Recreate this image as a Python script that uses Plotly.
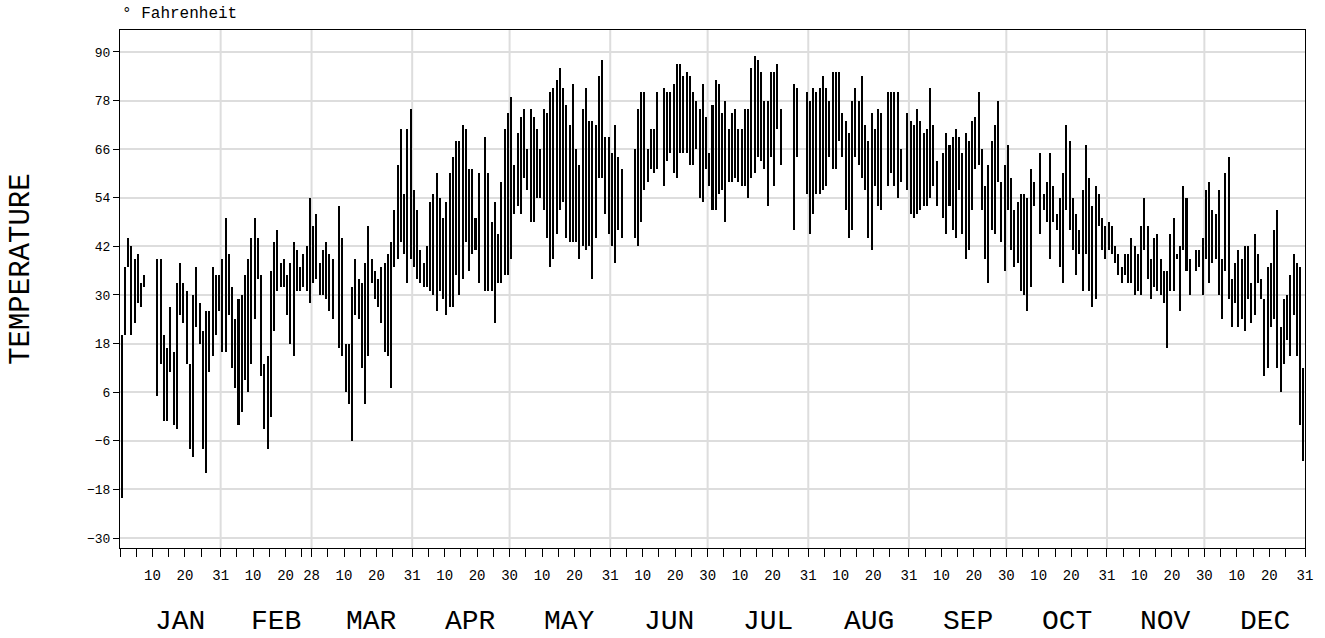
import plotly.graph_objects as go

month_names = ["JAN", "FEB", "MAR", "APR", "MAY", "JUN", "JUL", "AUG", "SEP", "OCT", "NOV", "DEC"]
month_days = [31, 28, 31, 30, 31, 30, 31, 31, 30, 31, 30, 31]
y_ticks = [-30, -18, -6, 6, 18, 30, 42, 54, 66, 78, 90]

# daily high / low temperatures (deg F), None = missing day
jan_hi = [20, 37, 44, 42, 39, 40, 33, 35, None, None, None, 39, 39, 20, 17, 27, 16, 33, 38, 33, 31, 13, 30, 37, 28, 21, 26, 26, 37, 35, 35]
jan_lo = [-20, 20, 37, 20, 23, 28, 27, 32, None, None, None, 5, 13, -1, -1, 11, -2, -3, 25, 23, 13, -8, -10, 22, 18, -8, -14, 11, 15, 20, 26]
feb_hi = [39, 49, 40, 32, 24, 29, 30, 35, 39, 44, 49, 44, 35, 13, 15, 36, 43, 46, 38, 39, 35, 38, 43, 41, 37, 40, 42, 54]
feb_lo = [16, 16, 25, 12, 7, -2, 1, 9, 6, 13, 24, 34, 10, -3, -8, 0, 21, 31, 32, 32, 25, 18, 15, 31, 31, 32, 31, 28]
mar_hi = [47, 50, 38, 41, 43, 40, 39, None, 52, 44, 18, 18, 32, 39, 34, 33, 38, 47, 39, 36, 34, 37, 38, 40, 43, 51, 62, 71, 55, 71, 76]
mar_lo = [33, 34, 30, 30, 29, 26, 24, None, 17, 15, 6, 3, -6, 25, 24, 12, 3, 15, 33, 29, 27, 23, 16, 15, 7, 37, 39, 43, 40, 33, 39]
apr_hi = [56, 51, 41, 38, 42, 53, 55, 60, 54, 49, 53, 60, 64, 68, 68, 72, 71, 61, 61, 49, 60, None, 69, 60, 48, 53, 45, 58, 71, 75]
apr_lo = [37, 34, 33, 32, 32, 31, 30, 26, 31, 29, 25, 27, 27, 35, 30, 34, 43, 36, 40, 41, 33, None, 31, 31, 31, 23, 33, 33, 35, 35]
may_hi = [79, 62, 70, 74, 76, 66, 76, 74, 71, 66, 76, 75, 80, 81, 83, 86, 81, 77, 72, 82, 66, 62, 76, 81, 73, 73, 72, 84, 88, 69, 69]
may_lo = [39, 50, 52, 50, 59, 56, 48, 48, 54, 54, 51, 44, 37, 39, 45, 51, 53, 44, 43, 43, 43, 39, 42, 41, 42, 34, 44, 59, 59, 50, 45]
jun_hi = [65, 72, 64, 61, None, None, None, 66, 76, 80, 80, 66, 71, 71, 80, None, 81, 80, 80, 82, 87, 87, 84, 85, 84, 80, 78, 76, 82, 74]
jun_lo = [42, 38, 46, 44, None, None, None, 44, 42, 48, 56, 58, 61, 60, 61, None, 57, 63, 65, 60, 59, 65, 65, 65, 62, 62, 66, 54, 53, 61]
jul_hi = [65, 77, 83, 82, 75, 78, 71, 75, 76, 71, 71, 76, 76, 86, 89, 88, 85, 78, 78, 85, 85, 87, 76, None, None, None, 82, 81, None, None, 80]
jul_lo = [57, 51, 51, 55, 56, 48, 58, 58, 59, 58, 57, 57, 54, 59, 60, 64, 63, 61, 52, 64, 57, 71, 62, None, None, None, 46, 64, None, None, 55]
aug_hi = [78, 81, 80, 81, 84, 81, 78, 85, 85, 85, 75, 73, 70, 78, 81, 78, 84, 72, 68, 75, 71, 76, 75, None, 80, 80, 80, 80, 66, None, 75]
aug_lo = [45, 50, 55, 55, 56, 57, 64, 61, 61, 68, 64, 51, 44, 46, 64, 62, 59, 56, 44, 41, 57, 52, 51, None, 57, 60, 57, 54, 58, None, 56]
sep_hi = [73, 72, 76, 73, 70, 71, 81, 72, 63, None, 65, 70, 67, 69, 71, 69, 65, 70, 68, 73, 74, 80, 66, 57, 62, 68, 72, 78, 58, 62]
sep_lo = [50, 49, 50, 51, 52, 52, 54, 57, 52, None, 49, 45, 52, 46, 44, 56, 45, 39, 41, 51, 61, 62, 51, 39, 33, 46, 45, 58, 43, 36]
oct_hi = [67, 59, 51, 53, 55, 55, 54, 61, 58, None, 65, 55, 58, 65, 57, 50, 54, 60, 72, 68, 54, 50, 46, 56, 67, 59, 52, 57, 55, 49, 47]
oct_lo = [51, 41, 37, 38, 31, 30, 26, 32, 52, None, 45, 51, 48, 39, 48, 46, 37, 33, 51, 46, 41, 35, 40, 31, 40, 31, 27, 29, 47, 41, 39]
nov_hi = [48, 47, 42, 40, 37, 40, 40, 44, 42, 40, 47, 54, 47, 39, 44, 45, 39, 36, 36, 45, 49, 40, 42, 57, 54, 39, None, 41, 41, 44]
nov_lo = [41, 40, 38, 35, 33, 35, 33, 33, 30, 31, 30, 41, 34, 29, 32, 31, 30, 28, 17, 31, 31, 39, 26, 41, 36, 30, None, 36, 37, 30]
dec_hi = [56, 58, 51, 50, 56, 39, 60, 64, 34, 38, 41, 39, 42, 42, 33, 45, 40, 34, 29, 37, 38, 46, 51, 22, 29, 30, 35, 40, 38, 37, 12]
dec_lo = [39, 33, 38, 39, 30, 24, 36, 29, 22, 28, 22, 24, 21, 29, 23, 25, 33, 29, 10, 12, 22, 24, 12, 6, 13, 19, 15, 25, 15, -2, -11]

highs = (jan_hi + feb_hi + mar_hi + apr_hi + may_hi + jun_hi +
         jul_hi + aug_hi + sep_hi + oct_hi + nov_hi + dec_hi)
lows = (jan_lo + feb_lo + mar_lo + apr_lo + may_lo + jun_lo +
        jul_lo + aug_lo + sep_lo + oct_lo + nov_lo + dec_lo)

n_days = sum(month_days)
day_pos = [i + 0.5 for i in range(n_days)]
span = [None if (h is None or l is None) else h - l for h, l in zip(highs, lows)]

# month boundaries and ticks
month_start = []
acc = 0
for d in month_days:
    month_start.append(acc)
    acc += d
month_end = [s + d for s, d in zip(month_start, month_days)]

tickvals = [0]
ticktext = [""]
for s, d in zip(month_start, month_days):
    for k in (5, 10, 15, 20, 25):
        if k < d:
            tickvals.append(s + k)
            ticktext.append(str(k) if k in (10, 20) else "")
    tickvals.append(s + d)
    ticktext.append(str(d))

FONT = "Liberation Mono, Courier New, monospace"
GRID = "#dddddd"

fig = go.Figure()
fig.add_trace(go.Bar(
    x=day_pos, y=span, base=lows, width=0.62,
    marker=dict(color="black", line=dict(width=0)),
    hoverinfo="skip", showlegend=False,
))

shapes = []
for e in month_end[:-1]:
    shapes.append(dict(type="line", xref="x", yref="paper", x0=e, x1=e, y0=0, y1=1,
                       line=dict(color=GRID, width=2), layer="below"))

annotations = [
    dict(text="° Fahrenheit", xref="paper", yref="paper", x=0, y=1, xanchor="left",
         yanchor="middle", xshift=0, yshift=16, showarrow=False,
         font=dict(family=FONT, size=16, color="black")),
    dict(text="TEMPERATURE", xref="paper", yref="paper", x=0, y=0.537, textangle=-90,
         xanchor="center", yanchor="middle", xshift=-98, showarrow=False,
         font=dict(family=FONT, size=29, color="black")),
]
for s, d, name in zip(month_start, month_days, month_names):
    annotations.append(dict(text=name, xref="x", yref="paper", x=s + d / 2, y=0,
                            xanchor="center", yanchor="middle", xshift=10, yshift=-73,
                            showarrow=False, font=dict(family=FONT, size=28, color="black")))

fig.update_layout(
    width=1325, height=638,
    margin=dict(l=120, r=15, t=30, b=90),
    paper_bgcolor="white", plot_bgcolor="white",
    bargap=0,
    shapes=shapes,
    annotations=annotations,
    xaxis=dict(range=[0, n_days], tickmode="array", tickvals=tickvals, ticktext=ticktext,
               ticks="outside", ticklen=8, tickwidth=1, tickcolor="black",
               showgrid=False, zeroline=False, showline=True, mirror=True,
               linecolor="black", linewidth=1, ticklabelstandoff=6,
               tickfont=dict(family=FONT, size=14, color="black")),
    yaxis=dict(range=[-32.47, 95.43], tickmode="array", tickvals=y_ticks,
               ticks="outside", ticklen=6, tickwidth=1, tickcolor="black",
               showgrid=True, gridcolor=GRID, gridwidth=2, zeroline=False,
               showline=True, mirror=True, linecolor="black", linewidth=1,
               tickfont=dict(family=FONT, size=13, color="black")),
)

# remove the default 8px page margin so the 1325x638 figure fills the window exactly
fig.write_html("out.html", config={"displayModeBar": False},
               post_script="document.body.style.margin='0';document.body.style.overflow='hidden';")
